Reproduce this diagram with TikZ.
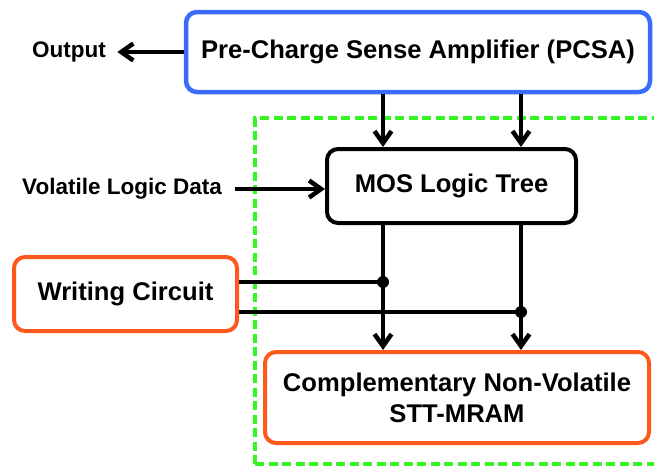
\documentclass[tikz,border=0pt]{standalone}
\usepackage{fontspec}
\setmainfont{Liberation Sans}
\usetikzlibrary{arrows.meta}
\definecolor{pcsablue}{RGB}{58,108,250}
\definecolor{wrorange}{RGB}{255,88,28}
\definecolor{regreen}{RGB}{55,245,35}
\tikzset{blk/.style={draw,line width=4pt,rounded corners=11pt,align=center,inner sep=0pt},
         wire/.style={line width=4.5pt},
         lbl/.style={font=\fontsize{22.5}{27}\selectfont\bfseries}}

\begin{document}
\begin{tikzpicture}[x=1pt,y=-1pt,>={Straight Barb[length=12pt,width=17pt]},font=\fontsize{25.6}{31}\selectfont\bfseries]
                \useasboundingbox (0,0) rectangle (654,466);
                \draw[regreen,line width=4pt,dash pattern=on 9pt off 4.5pt] (255,464)--(255,118)--(680,118);
                \draw[regreen,line width=4pt,dash pattern=on 9pt off 4.5pt] (255,464)--(680,464);
                \node[blk,draw=pcsablue,line width=4.5pt,minimum width=464,minimum height=80] (pcsa) at (418,52) {Pre-Charge Sense Amplifier (PCSA)};
                \node[blk,minimum width=249,minimum height=74] (mos) at (451.5,186) {MOS Logic Tree};
                \node[blk,draw=wrorange,minimum width=223,minimum height=74] (wrc) at (125.5,294) {Writing Circuit};
                \node[blk,draw=wrorange,minimum width=384,minimum height=91] (nvm) at (457,397.5) {Complementary Non-Volatile\\STT-MRAM};
                \node[lbl] (out) at (69,52) {Output};
                \node[lbl] (vld) at (122,189) {Volatile Logic Data};
                \coordinate (jl) at (383,282);
                \coordinate (jr) at (521,312);
                \draw[wire,->,shorten >=8pt] (pcsa.west) -- (out.east);
                \draw[wire,->,shorten <=10pt] (vld.east) -- (vld.east -| mos.west);
                \draw[wire,->] (pcsa.south -| jl) -- (mos.north -| jl);
                \draw[wire,->] (pcsa.south -| jr) -- (mos.north -| jr);
                \draw[wire,->] (mos.south -| jl) -- (nvm.north -| jl);
                \draw[wire,->] (mos.south -| jr) -- (nvm.north -| jr);
                \draw[wire] (wrc.east |- jl) -- (jl);
                \draw[wire] (wrc.east |- jr) -- (jr);
                \fill (jl) circle (6pt);
                \fill (jr) circle (6pt);
\end{tikzpicture}
\end{document}
